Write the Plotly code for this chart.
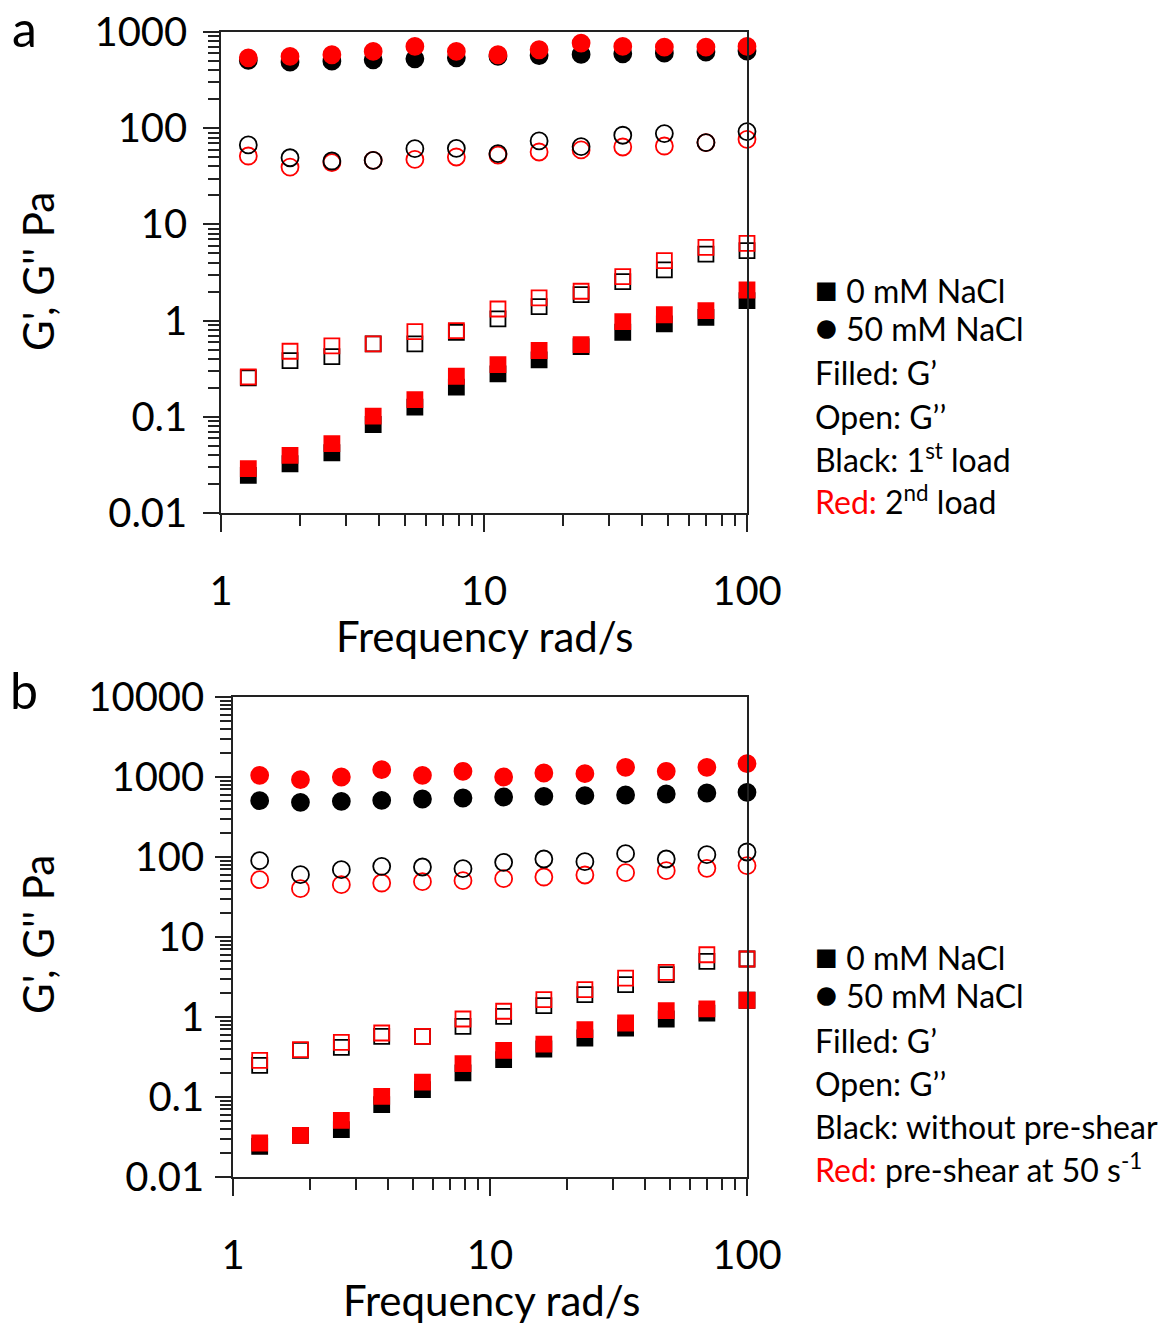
import plotly.graph_objects as go

# the page adds an 8px body margin, so the figure is laid out in that frame
W, H = 1163, 1316
OFF = 8
RED = '#ff0000'

# frequency, rad/s (same sweep for both panels)
freq = [1.27, 1.83, 2.64, 3.79, 5.46, 7.85, 11.3, 16.2, 23.4, 33.7, 48.5, 69.8, 100]

# panel a: black = 1st load, red = 2nd load
a_gp0_1 = [0.0246, 0.0325, 0.0423, 0.0832, 0.126, 0.203, 0.279, 0.391, 0.537, 0.757, 0.923, 1.08, 1.61]
a_gp0_2 = [0.0289, 0.0397, 0.0525, 0.1016, 0.151, 0.264, 0.349, 0.489, 0.563, 0.976, 1.15, 1.27, 2.08]
a_gpp0_1 = [0.254, 0.384, 0.423, 0.573, 0.573, 0.757, 1.04, 1.40, 1.86, 2.54, 3.36, 4.92, 5.33]
a_gpp0_2 = [0.26, 0.48, 0.546, 0.573, 0.769, 0.787, 1.32, 1.72, 2.02, 2.86, 4.2, 5.77, 6.35]
a_gp50_1 = [506, 486, 497, 514, 526, 539, 557, 570, 584, 594, 603, 618, 633]
a_gp50_2 = [539, 557, 580, 628, 708, 628, 580, 654, 767, 708, 697, 697, 708]
a_gpp50_1 = [67, 49.3, 45.6, 46.3, 61.3, 61.8, 54.3, 73.8, 64.3, 84.5, 88, 70.9, 92.3]
a_gpp50_2 = [51.4, 39.4, 43.8, 46.3, 47.4, 50.2, 52.6, 56.6, 59.4, 63.8, 65.3, 70.9, 76.7]

# panel b: black = without pre-shear, red = pre-shear at 50 1/s
b_gp0_1 = [0.0242, 0.0332, 0.039, 0.0802, 0.124, 0.2, 0.293, 0.398, 0.546, 0.729, 0.944, 1.12, 1.62]
b_gp0_2 = [0.0266, 0.0332, 0.0511, 0.102, 0.153, 0.261, 0.383, 0.459, 0.695, 0.841, 1.2, 1.26, 1.62]
b_gpp0_1 = [0.249, 0.383, 0.418, 0.573, 0.573, 0.764, 1.02, 1.39, 1.9, 2.54, 3.38, 4.96, 5.31]
b_gpp0_2 = [0.287, 0.39, 0.482, 0.631, 0.573, 0.944, 1.18, 1.65, 2.2, 3.07, 3.62, 6.0, 5.31]
b_gp50_1 = [506, 482, 496, 511, 531, 546, 562, 573, 584, 596, 613, 631, 643]
b_gp50_2 = [1049, 926, 1000, 1235, 1049, 1177, 1000, 1122, 1101, 1321, 1177, 1321, 1468]
b_gpp50_1 = [90, 60.1, 69.5, 76.4, 75, 71.5, 85.8, 94.4, 87.5, 110, 94.4, 107, 115.5]
b_gpp50_2 = [52.1, 40.2, 45.1, 47.3, 49.2, 50.6, 53.6, 56.2, 59.6, 63.7, 67.5, 72.2, 77.9]

x_ticks = [1, 10, 100]
x_ticktext = ['1', '10', '100']
a_yticks = [0.01, 0.1, 1, 10, 100, 1000]
a_yticktext = ['0.01', '0.1', '1', '10', '100', '1000']
b_yticks = [0.01, 0.1, 1, 10, 100, 1000, 10000]
b_yticktext = ['0.01', '0.1', '1', '10', '100', '1000', '10000']

SQ = '<span style="font-size:38px">■</span> '
CI = '<span style="font-size:38px">●</span> '
legend_a = [SQ + '0 mM NaCl', CI + '50 mM NaCl', 'Filled: G’', 'Open: G’’',
            'Black: 1<sup>st</sup> load', '<span style="color:#ff0000">Red:</span> 2<sup>nd</sup> load']
legend_b = [SQ + '0 mM NaCl', CI + '50 mM NaCl', 'Filled: G’', 'Open: G’’',
            'Black: without pre-shear', '<span style="color:#ff0000">Red:</span> pre-shear at 50 s<sup>-1</sup>']


def px(x):
    return (x - OFF) / W


def py(y):
    return 1 - (y - OFF) / H


def add_panel(fig, xa, ya, series):
    # series: (values, symbol, color); order = drawing order
    for vals, sym, col in series:
        fig.add_trace(go.Scatter(
            x=freq, y=vals, mode='markers', xaxis=xa, yaxis=ya,
            showlegend=False, cliponaxis=False,
            marker=dict(symbol=sym, size=17 if 'circle' in sym else 15, color=col,
                        line=dict(color=col, width=1.8))
        ))


fig = go.Figure()

add_panel(fig, 'x', 'y', [
    (a_gpp50_2, 'circle-open', RED), (a_gpp50_1, 'circle-open', 'black'),
    (a_gp50_1, 'circle', 'black'), (a_gp50_2, 'circle', RED),
    (a_gpp0_1, 'square-open', 'black'), (a_gpp0_2, 'square-open', RED),
    (a_gp0_1, 'square', 'black'), (a_gp0_2, 'square', RED),
])
add_panel(fig, 'x2', 'y2', [
    (b_gpp50_2, 'circle-open', RED), (b_gpp50_1, 'circle-open', 'black'),
    (b_gp50_1, 'circle', 'black'), (b_gp50_2, 'circle', RED),
    (b_gpp0_1, 'square-open', 'black'), (b_gpp0_2, 'square-open', RED),
    (b_gp0_1, 'square', 'black'), (b_gp0_2, 'square', RED),
])

tick_font = dict(family='Lato', size=40, color='black')
minor = dict(dtick='D1', ticks='outside', ticklen=11, tickwidth=1.5, tickcolor='#222', showgrid=False)
common = dict(type='log', showline=True, linecolor='#222', linewidth=1.5, mirror=True,
              ticks='outside', tickwidth=1.5, tickcolor='#222', showgrid=False,
              zeroline=False, tickfont=tick_font, minor=minor, tickmode='array',
              automargin=False, ticklabeloverflow='allow')

fig.update_layout(
    width=W, height=H, margin=dict(l=0, r=0, t=0, b=0, autoexpand=False),
    paper_bgcolor='white', plot_bgcolor='white',
    font=dict(family='Lato', color='black'),
    xaxis=dict(common, domain=[px(221), px(747)], range=[0, 2], anchor='y',
               tickvals=x_ticks, ticktext=x_ticktext, ticklen=17, ticklabelstandoff=25),
    yaxis=dict(common, domain=[py(513), py(32)], range=[-2, 3], anchor='x',
               tickvals=a_yticks, ticktext=a_yticktext, ticklen=16, ticklabelstandoff=8),
    xaxis2=dict(common, domain=[px(233), px(747)], range=[0, 2], anchor='y2',
                tickvals=x_ticks, ticktext=x_ticktext, ticklen=17, ticklabelstandoff=25),
    yaxis2=dict(common, domain=[py(1177), py(697)], range=[-2, 4], anchor='x2',
                tickvals=b_yticks, ticktext=b_yticktext, ticklen=16, ticklabelstandoff=3),
)

ann = []
title_font = dict(family='Lato', size=42, color='black')
ann.append(dict(x=px(484), y=py(636), text='Frequency rad/s', font=title_font))
ann.append(dict(x=px(491), y=py(1300), text='Frequency rad/s', font=title_font))
ann.append(dict(x=px(38), y=py(272), text="G', G'' Pa", textangle=-90, font=title_font))
ann.append(dict(x=px(38), y=py(935), text="G', G'' Pa", textangle=-90, font=title_font))
ann.append(dict(x=px(24), y=py(28), text='a', font=dict(family='Lato', size=50, color='black')))
ann.append(dict(x=px(24), y=py(690), text='b', font=dict(family='Lato', size=50, color='black')))

leg_font = dict(family='Lato', size=32, color='black')
for txt, y in zip(legend_a, [288, 326, 373, 416, 458, 500]):
    ann.append(dict(x=px(813), y=py(y), text=txt, xanchor='left', font=leg_font))
for txt, y in zip(legend_b, [955, 993, 1040, 1083, 1126, 1168]):
    ann.append(dict(x=px(813), y=py(y), text=txt, xanchor='left', font=leg_font))

for a in ann:
    a.setdefault('xanchor', 'center')
    fig.add_annotation(xref='paper', yref='paper', showarrow=False, yanchor='middle', **a)

fig.write_html('out.html')
